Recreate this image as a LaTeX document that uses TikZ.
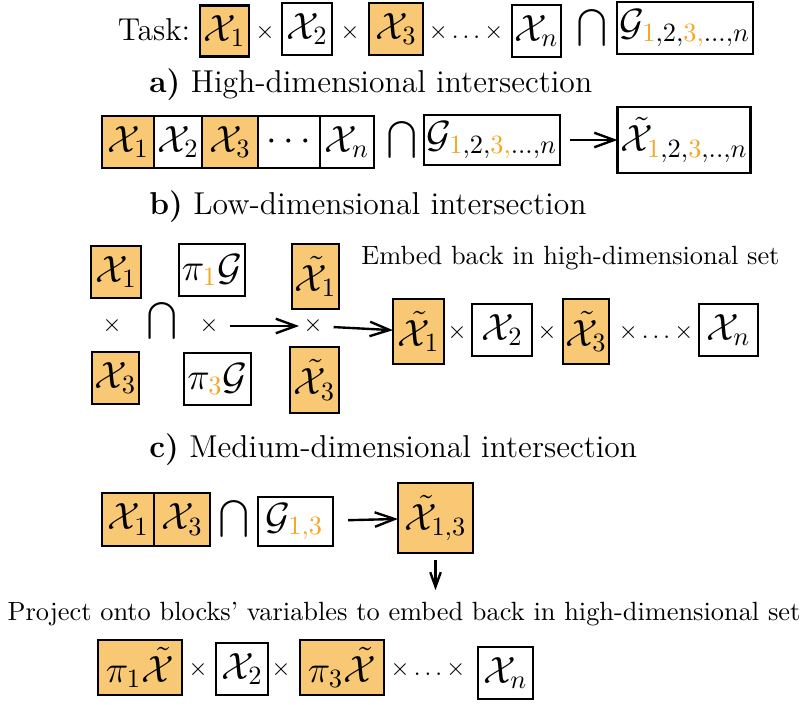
\documentclass[tikz,border=0pt]{standalone}
\usetikzlibrary{arrows.meta,positioning}
\definecolor{setorange}{RGB}{248,200,117}
\definecolor{idxorange}{RGB}{245,166,35}
\newcommand{\Xc}{\mathcal{X}}
\newcommand{\Xt}{\tilde{\mathcal{X}}}
\newcommand{\oi}[1]{{\color{idxorange}#1}}

\begin{document}
\begin{tikzpicture}[x=0.1333mm, y=-0.1333mm,
  blk/.style={draw, line width=0.8pt, inner sep=1pt, outer sep=0pt,
              font=\Large, minimum height=6.93mm},
  hot/.style={blk, fill=setorange},
  cold/.style={blk, fill=white},
  tall/.style={minimum height=8.67mm},
  op/.style={inner sep=1pt, font=\small},
  capop/.style={inner sep=0pt, font=\normalsize},
  ttl/.style={anchor=west, font=\large},
  arr/.style={-{Straight Barb[length=7.5pt,width=5.5pt]}, line width=0.9pt},
  darr/.style={-{Straight Barb[length=5.5pt,width=4pt]}, line width=0.9pt}]
\useasboundingbox (0,0) rectangle (805,704);

% the task
\node[font=\large] (task) at (154,30) {Task:};
\node[hot, minimum width=6.53mm, minimum height=6.8mm] (tX1) at (224.5,31) {$\Xc_1$};
\node[op] (tm1) at (265,33) {$\times$};
\node[cold, minimum width=6.67mm] (tX2) at (307,29) {$\Xc_2$};
\node[op] (tm2) at (350,33) {$\times$};
\node[hot, minimum width=7.2mm] (tX3) at (396,29) {$\Xc_3$};
\node[op] (tdots) at (466,33) {$\times\ldots\times$};
\node[cold, minimum width=6.27mm] (tXn) at (536.5,31) {$\Xc_n$};
\node[capop] (tcap) at (592,28) {$\displaystyle\bigcap$};
\node[cold, minimum width=17.07mm] (tG) at (685,28) {$\mathcal{G}_{\oi{1},2,\oi{3,}\ldots,n}$};

% a) high-dimensional
\node[ttl] (ttlA) at (140,85) {\textbf{a)} High-dimensional intersection};
\node[hot, minimum width=6.93mm] (aX1) at (128,142) {$\Xc_1$};
\node[cold, minimum width=6.4mm, right=0pt of aX1] (aX2) {$\Xc_2$};
\node[hot, minimum width=7.47mm, right=0pt of aX2] (aX3) {$\Xc_3$};
\node[cold, minimum width=8.27mm, right=0pt of aX3] (adots) {$\cdots$};
\node[cold, minimum width=7.2mm, right=0pt of adots] (aXn) {$\Xc_n$};
\node[capop] (acap) at (402,140) {$\displaystyle\bigcap$};
\node[cold, minimum width=17.33mm, minimum height=6.67mm] (aG) at (492,140) {$\mathcal{G}_{\oi{1},2,\oi{3,}\ldots,n}$};
\node[cold, minimum width=14.67mm, minimum height=8.8mm] (aR) at (684,140) {$\Xt_{\oi{1},2,\oi{3},..,n}$};
\draw[arr, shorten <=3.8pt] (aG) -- (aR);

% b) low-dimensional
\node[ttl] (ttlB) at (140,207) {\textbf{b)} Low-dimensional intersection};
\node[hot, minimum width=6.67mm] (bX1) at (116,272) {$\Xc_1$};
\node[cold, minimum width=8.8mm] (bG1) at (212,270) {$\pi_{\oi{1}}\mathcal{G}$};
\node[hot, tall, minimum width=6.27mm] (bT1) at (315.5,276.5) {$\Xt_1$};
\node[op] (bm1) at (112,326) {$\times$};
\node[capop] (bcap) at (162,321) {$\displaystyle\bigcap$};
\node[op] (bm2) at (209,326) {$\times$};
\node[op] (bm3) at (313,326) {$\times$};
\node[hot, minimum width=6.27mm] (bX3) at (115.5,378) {$\Xc_3$};
\node[cold, minimum width=8.93mm] (bG3) at (217.5,379) {$\pi_{\oi{3}}\mathcal{G}$};
\node[hot, tall, minimum width=6.53mm, minimum height=8.8mm] (bT3) at (314.5,380) {$\Xt_3$};
\node[anchor=west] (embed) at (352,258) {Embed back in high-dimensional set};
\node[hot, tall, minimum width=6.8mm] (bB1) at (418.5,331.5) {$\Xt_1$};
\node[op] (bm4) at (457,333) {$\times$};
\node[cold, minimum width=8mm] (bB2) at (502,330) {$\Xc_2$};
\node[op] (bm5) at (547,333) {$\times$};
\node[hot, tall, minimum width=6.13mm] (bB3) at (586,331.5) {$\Xt_3$};
\node[op] (bdots) at (656,333) {$\times\ldots\times$};
\node[cold, minimum width=7.87mm] (bBn) at (728.5,330) {$\Xc_n$};
\draw[arr, shorten <=3pt, shorten >=0.5pt] (bm2) -- (bm3);
\draw[arr, shorten <=3pt] (bm3) -- (bB1);

% c) medium-dimensional
\node[ttl] (ttlC) at (140,450) {\textbf{c)} Medium-dimensional intersection};
\node[hot, minimum width=6.93mm, minimum height=7.07mm] (cX1) at (128,519.5) {$\Xc_1$};
\node[hot, minimum width=7.47mm, minimum height=7.07mm, right=0pt of cX1] (cX3) {$\Xc_3$};
\node[capop] (ccap) at (234,518.5) {$\displaystyle\bigcap$};
\node[cold, minimum width=10mm, minimum height=6.53mm, text width=7.9mm, inner xsep=3pt, align=left] (cG) at (295.5,521.5) {$\mathcal{G}_{\oi{1,3}}$};
\node[hot, minimum width=10mm, minimum height=9.33mm] (cR) at (435.5,518) {$\Xt_{1,3}$};
\node (proj) at (404,614) {Project onto blocks' variables to embed back in high-dimensional set};
\draw[arr, shorten <=5.7pt] (cG) -- (cR);
\draw[darr, shorten <=2.6pt, shorten >=1pt] (cR.south) -- (cR.south |- proj.north);

% projected result
\node[hot, minimum width=11.2mm, minimum height=7.33mm] (dP1) at (140,667.5) {$\pi_1\Xt$};
\node[op] (dm1) at (198,670) {$\times$};
\node[cold, minimum width=6.93mm] (dX2) at (242,669) {$\Xc_2$};
\node[op] (dm2) at (281,670) {$\times$};
\node[hot, minimum width=11.2mm, minimum height=7.33mm] (dP3) at (342,667.5) {$\pi_3\Xt$};
\node[op] (ddots) at (428,670) {$\times\ldots\times$};
\node[cold, minimum width=7.33mm] (dXn) at (505.5,673) {$\Xc_n$};
\end{tikzpicture}
\end{document}
